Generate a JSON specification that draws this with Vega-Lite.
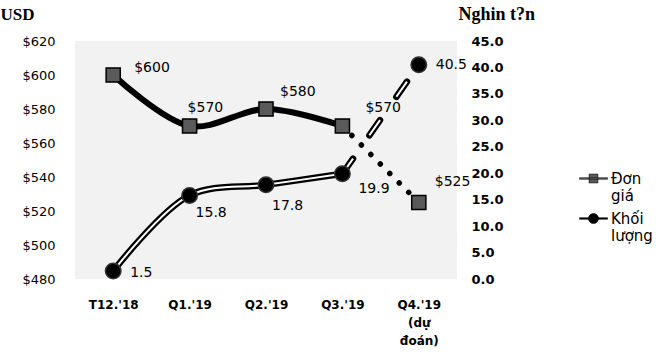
{
  "$schema": "https://vega.github.io/schema/vega-lite/v6.json",
  "width": 382,
  "height": 238,
  "autosize": {"type": "none"},
  "padding": {"left": 75, "top": 41, "right": 203, "bottom": 82},
  "background": "white",
  "config": {"view": {"fill": "#f2f2f2", "stroke": null}, "font": "DejaVu Sans"},
  "data": {"values": [
    {"period": "T12.'18", "price": 600, "volume": 1.5},
    {"period": "Q1.'19", "price": 570, "volume": 15.8},
    {"period": "Q2.'19", "price": 580, "volume": 17.8},
    {"period": "Q3.'19", "price": 570, "volume": 19.9},
    {"period": "Q4.'19\n(dự\nđoán)", "price": 525, "volume": 40.5}
  ]},
  "encoding": {
    "x": {
      "field": "period", "type": "ordinal", "sort": null,
      "scale": {"padding": 0.5},
      "axis": {"orient": "bottom", "labelAngle": 0, "labelFont": "DejaVu Sans", "labelFontSize": 12, "labelFontWeight": "bold", "labelColor": "black", "labelPadding": 20, "labelBaseline": "top", "labelLineHeight": 18, "labelExpr": "split(datum.label, '\\n')", "ticks": false, "domain": false, "title": null}
    }
  },
  "layer": [
    {
      "encoding": {
        "y": {"field": "price", "type": "quantitative", "scale": {"domain": [480, 620], "zero": false, "nice": false},
          "axis": {"orient": "left", "values": [480, 500, 520, 540, 560, 580, 600, 620], "format": "$,.0f", "labelFont": "DejaVu Sans", "labelFontSize": 13, "labelColor": "black", "labelPadding": 20, "ticks": false, "domain": false, "grid": false,
            "title": "USD", "titleX": -75, "titleY": -22, "titleAngle": 0, "titleAlign": "left", "titleBaseline": "alphabetic", "titleFont": "Liberation Serif", "titleFontSize": 17, "titleFontWeight": "bold", "titleColor": "black"}}
      },
      "layer": [
        {"transform": [{"filter": "indexof(datum.period, 'Q4') < 0"}], "mark": {"type": "line", "interpolate": "catmull-rom", "color": "black", "strokeWidth": 6}},
        {"transform": [{"filter": "indexof(datum.period, 'Q3') >= 0 || indexof(datum.period, 'Q4') >= 0"}], "mark": {"type": "line", "color": "black", "strokeWidth": 5.5, "strokeDash": [0.01, 13.4], "strokeCap": "round"}},
        {"mark": {"type": "square", "size": 200, "fill": "#5a5a5a", "stroke": "black", "strokeWidth": 1.5, "opacity": 1}},
        {"transform": [{"filter": "false"}], "mark": {"type": "point", "filled": true, "stroke": "black", "strokeWidth": 0.5, "opacity": 1},
          "encoding": {
            "color": {"datum": "Đơn giá", "scale": {"domain": ["Đơn giá", "Khối lượng"], "range": ["#5a5a5a", "#000000"]},
              "legend": {"orient": "none", "legendX": 504, "legendY": 123, "title": null, "padding": 0, "symbolSize": 784, "labelExpr": "split(datum.label, ' ')", "labelFont": "DejaVu Sans", "labelFontSize": 15, "labelColor": "black", "labelOffset": 3, "rowPadding": 0, "labelLimit": 200, "symbolStrokeColor": "black", "symbolStrokeWidth": 0.5}},
            "shape": {"datum": "Đơn giá", "scale": {"domain": ["Đơn giá", "Khối lượng"], "range": ["M-1,-0.06H1V0.06H-1Z M-0.32,-0.32H0.32V0.32H-0.32Z", "M-1,-0.06H1V0.06H-1Z M0.36,0A0.36,0.36 0 1,1 -0.36,0A0.36,0.36 0 1,1 0.36,0Z"]},
              "legend": {"orient": "none", "legendX": 504, "legendY": 123, "title": null, "padding": 0, "symbolSize": 784, "labelExpr": "split(datum.label, ' ')", "labelFont": "DejaVu Sans", "labelFontSize": 15, "labelColor": "black", "labelOffset": 3, "rowPadding": 0, "labelLimit": 200, "symbolStrokeColor": "black", "symbolStrokeWidth": 0.5}}
          }},
        {"transform": [{"filter": "datum.period === \"T12.'18\""}], "mark": {"type": "text", "align": "left", "baseline": "middle", "dx": 21, "dy": -7, "fontSize": 14, "color": "black"}, "encoding": {"text": {"field": "price", "format": "$,.0f"}}},
        {"transform": [{"filter": "datum.period === \"Q1.'19\""}], "mark": {"type": "text", "align": "left", "baseline": "middle", "dx": -2, "dy": -18, "fontSize": 14, "color": "black"}, "encoding": {"text": {"field": "price", "format": "$,.0f"}}},
        {"transform": [{"filter": "datum.period === \"Q2.'19\""}], "mark": {"type": "text", "align": "left", "baseline": "middle", "dx": 14, "dy": -17, "fontSize": 14, "color": "black"}, "encoding": {"text": {"field": "price", "format": "$,.0f"}}},
        {"transform": [{"filter": "datum.period === \"Q3.'19\""}], "mark": {"type": "text", "align": "left", "baseline": "middle", "dx": 23, "dy": -18, "fontSize": 14, "color": "black"}, "encoding": {"text": {"field": "price", "format": "$,.0f"}}},
        {"transform": [{"filter": "indexof(datum.period, 'Q4') >= 0"}], "mark": {"type": "text", "align": "left", "baseline": "middle", "dx": 16, "dy": -21, "fontSize": 14, "color": "black"}, "encoding": {"text": {"field": "price", "format": "$,.0f"}}}
      ]
    },
    {
      "encoding": {
        "y": {"field": "volume", "type": "quantitative", "scale": {"domain": [0, 45], "nice": false},
          "axis": {"orient": "right", "values": [0, 5, 10, 15, 20, 25, 30, 35, 40, 45], "format": ".1f", "labelFont": "DejaVu Sans", "labelFontSize": 13, "labelFontWeight": "bold", "labelColor": "black", "labelPadding": 14, "ticks": false, "domain": false, "grid": false,
            "title": "Nghin t?n", "titleX": 1, "titleY": -22, "titleAngle": 0, "titleAlign": "left", "titleBaseline": "alphabetic", "titleFont": "Liberation Serif", "titleFontSize": 18, "titleFontWeight": "bold", "titleColor": "black"}}
      },
      "layer": [
        {"transform": [{"filter": "indexof(datum.period, 'Q4') < 0"}], "mark": {"type": "line", "interpolate": "catmull-rom", "color": "black", "strokeWidth": 6.5}},
        {"transform": [{"filter": "indexof(datum.period, 'Q4') < 0"}], "mark": {"type": "line", "interpolate": "catmull-rom", "color": "white", "strokeWidth": 2}},
        {"transform": [{"filter": "indexof(datum.period, 'Q3') >= 0 || indexof(datum.period, 'Q4') >= 0"}], "mark": {"type": "line", "color": "black", "strokeWidth": 6.5, "strokeDash": [18.5, 28.5], "strokeCap": "round"}},
        {"transform": [{"filter": "indexof(datum.period, 'Q3') >= 0 || indexof(datum.period, 'Q4') >= 0"}], "mark": {"type": "line", "color": "white", "strokeWidth": 2, "strokeDash": [18.5, 28.5], "strokeCap": "butt"}},
        {"mark": {"type": "circle", "size": 240, "fill": "black", "stroke": "#333333", "strokeWidth": 1.5, "opacity": 1}},
        {"transform": [{"filter": "datum.period === \"T12.'18\""}], "mark": {"type": "text", "align": "left", "baseline": "middle", "dx": 17, "dy": 2, "fontSize": 14, "color": "black"}, "encoding": {"text": {"field": "volume", "format": ".1f"}}},
        {"transform": [{"filter": "datum.period === \"Q1.'19\""}], "mark": {"type": "text", "align": "left", "baseline": "middle", "dx": 6, "dy": 18, "fontSize": 14, "color": "black"}, "encoding": {"text": {"field": "volume", "format": ".1f"}}},
        {"transform": [{"filter": "datum.period === \"Q2.'19\""}], "mark": {"type": "text", "align": "left", "baseline": "middle", "dx": 6, "dy": 21, "fontSize": 14, "color": "black"}, "encoding": {"text": {"field": "volume", "format": ".1f"}}},
        {"transform": [{"filter": "datum.period === \"Q3.'19\""}], "mark": {"type": "text", "align": "left", "baseline": "middle", "dx": 16, "dy": 15, "fontSize": 14, "color": "black"}, "encoding": {"text": {"field": "volume", "format": ".1f"}}},
        {"transform": [{"filter": "indexof(datum.period, 'Q4') >= 0"}], "mark": {"type": "text", "align": "left", "baseline": "middle", "dx": 17, "dy": 0, "fontSize": 14, "color": "black"}, "encoding": {"text": {"field": "volume", "format": ".1f"}}}
      ]
    }
  ],
  "resolve": {"scale": {"y": "independent"}, "axis": {"y": "independent"}}
}
